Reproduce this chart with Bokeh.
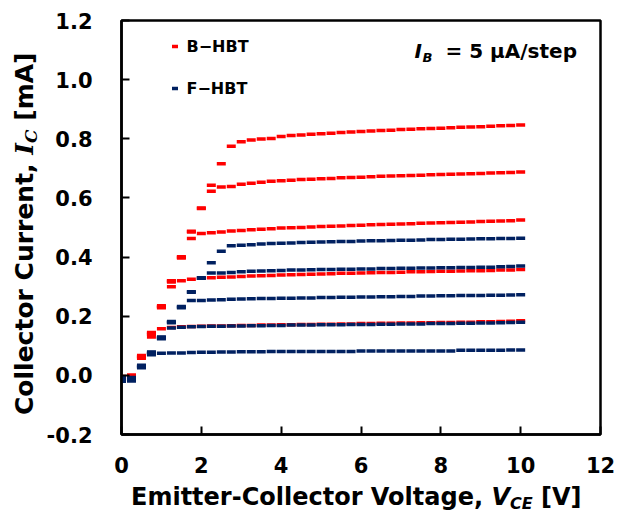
from bokeh.plotting import figure
from bokeh.models import (Range1d, FixedTicker, PrintfTickFormatter, Label, Legend,
                          LegendItem, GridBox, Div)
from bokeh.embed import file_html
from bokeh.resources import INLINE

# ---------------- data ----------------
vce = [0.0, 0.25, 0.5, 0.75, 1.0, 1.25, 1.5, 1.75, 2.0, 2.25, 2.5, 2.75,
       3.0, 3.25, 3.5, 3.75, 4.0, 4.25, 4.5, 4.75, 5.0, 5.25, 5.5, 5.75,
       6.0, 6.25, 6.5, 6.75, 7.0, 7.25, 7.5, 7.75, 8.0, 8.25, 8.5, 8.75,
       9.0, 9.25, 9.5, 9.75, 10.0]

# B-HBT (red)
b_hbt_1 = [-0.004, 0.001, 0.058, 0.130, 0.158, 0.162, 0.164, 0.165, 0.166, 0.167, 0.167, 0.168,
           0.169, 0.169, 0.170, 0.170, 0.171, 0.171, 0.172, 0.172, 0.173, 0.173, 0.174, 0.174,
           0.175, 0.175, 0.176, 0.176, 0.177, 0.177, 0.178, 0.178, 0.179, 0.179, 0.180, 0.180,
           0.181, 0.181, 0.182, 0.183, 0.185]
b_hbt_2 = [-0.006, -0.001, 0.061, 0.138, 0.229, 0.300, 0.320, 0.325, 0.328, 0.330, 0.332, 0.333,
           0.334, 0.336, 0.337, 0.338, 0.339, 0.340, 0.341, 0.342, 0.343, 0.344, 0.345, 0.345,
           0.346, 0.347, 0.348, 0.348, 0.349, 0.350, 0.350, 0.351, 0.352, 0.352, 0.353, 0.354,
           0.354, 0.355, 0.356, 0.356, 0.358]
b_hbt_3 = [-0.008, -0.003, 0.063, 0.141, 0.231, 0.316, 0.397, 0.463, 0.480, 0.482, 0.485, 0.488,
           0.490, 0.492, 0.494, 0.496, 0.498, 0.499, 0.500, 0.502, 0.503, 0.504, 0.505, 0.507,
           0.508, 0.509, 0.510, 0.511, 0.512, 0.513, 0.514, 0.515, 0.516, 0.517, 0.518, 0.519,
           0.520, 0.521, 0.522, 0.523, 0.525]
b_hbt_4 = [-0.010, -0.005, 0.065, 0.143, 0.233, 0.319, 0.399, 0.485, 0.564, 0.623, 0.637, 0.639,
           0.646, 0.650, 0.653, 0.656, 0.658, 0.660, 0.662, 0.663, 0.665, 0.666, 0.668, 0.669,
           0.670, 0.672, 0.673, 0.674, 0.675, 0.676, 0.677, 0.678, 0.679, 0.680, 0.681, 0.682,
           0.683, 0.684, 0.685, 0.686, 0.688]
b_hbt_5 = [-0.012, -0.007, 0.067, 0.145, 0.235, 0.320, 0.401, 0.487, 0.566, 0.643, 0.716, 0.775,
           0.790, 0.796, 0.799, 0.801, 0.808, 0.811, 0.813, 0.815, 0.817, 0.819, 0.821, 0.823,
           0.825, 0.826, 0.828, 0.829, 0.831, 0.832, 0.834, 0.835, 0.836, 0.837, 0.839, 0.840,
           0.841, 0.842, 0.844, 0.845, 0.847]

# F-HBT (navy)
f_hbt_1 = [-0.008, -0.007, 0.026, 0.070, 0.075, 0.076, 0.076, 0.077, 0.078, 0.078, 0.079, 0.079,
           0.080, 0.080, 0.080, 0.081, 0.081, 0.081, 0.081, 0.081, 0.081, 0.081, 0.081, 0.081,
           0.082, 0.082, 0.082, 0.082, 0.082, 0.082, 0.082, 0.082, 0.082, 0.082, 0.085, 0.085,
           0.085, 0.085, 0.085, 0.086, 0.086]
f_hbt_2 = [-0.011, -0.010, 0.028, 0.073, 0.124, 0.160, 0.163, 0.164, 0.165, 0.166, 0.166, 0.167,
           0.167, 0.168, 0.168, 0.169, 0.169, 0.170, 0.170, 0.170, 0.171, 0.171, 0.171, 0.172,
           0.172, 0.172, 0.173, 0.173, 0.174, 0.174, 0.174, 0.175, 0.175, 0.175, 0.176, 0.176,
           0.177, 0.177, 0.178, 0.179, 0.180]
f_hbt_3 = [-0.014, -0.013, 0.030, 0.075, 0.126, 0.178, 0.229, 0.253, 0.253, 0.255, 0.256, 0.257,
           0.258, 0.259, 0.260, 0.260, 0.261, 0.261, 0.262, 0.262, 0.263, 0.263, 0.264, 0.264,
           0.265, 0.265, 0.266, 0.266, 0.267, 0.267, 0.268, 0.268, 0.269, 0.269, 0.270, 0.270,
           0.270, 0.271, 0.271, 0.272, 0.273]
f_hbt_4 = [-0.017, -0.016, 0.032, 0.077, 0.128, 0.180, 0.231, 0.281, 0.328, 0.346, 0.346, 0.348,
           0.350, 0.352, 0.353, 0.354, 0.355, 0.356, 0.356, 0.357, 0.358, 0.358, 0.359, 0.359,
           0.360, 0.360, 0.361, 0.361, 0.362, 0.362, 0.363, 0.363, 0.364, 0.364, 0.365, 0.365,
           0.366, 0.366, 0.367, 0.368, 0.370]
f_hbt_5 = [-0.020, -0.019, 0.034, 0.079, 0.130, 0.182, 0.233, 0.283, 0.330, 0.381, 0.420, 0.438,
           0.440, 0.442, 0.444, 0.446, 0.447, 0.448, 0.449, 0.450, 0.451, 0.452, 0.453, 0.453,
           0.454, 0.455, 0.455, 0.456, 0.457, 0.457, 0.458, 0.459, 0.459, 0.460, 0.460, 0.461,
           0.462, 0.462, 0.463, 0.463, 0.464]

x_ticks = [0, 2, 4, 6, 8, 10, 12]
y_ticks = [-0.2, 0.0, 0.2, 0.4, 0.6, 0.8, 1.0, 1.2]
legend_labels = ["B\u2212HBT", "F\u2212HBT"]

RED = "#FF0000"
NAVY = "#002060"
FONT = "DejaVu Sans"

# ---------------- layout geometry (window pixels) ----------------
WIN_W, WIN_H = 618, 521
YT_W = 41                            # strip for the y-axis title
FL, FT, FW, FH = 121, 20, 479, 414   # plot frame in window pixels
MAIN_H = 481                         # main figure height (frame + tick labels)
XT_H = WIN_H - MAIN_H                # strip for the x-axis title
XMIN, XMAX, YMIN, YMAX = 0, 12, -0.2, 1.2

p = figure(frame_width=FW, frame_height=FH,
           x_range=Range1d(XMIN, XMAX), y_range=Range1d(YMIN, YMAX),
           output_backend="svg", toolbar_location=None,
           min_border_left=FL - YT_W, min_border_right=WIN_W - FL - FW,
           min_border_top=FT, min_border_bottom=MAIN_H - FT - FH,
           background_fill_color="white", border_fill_color="white")
p.xgrid.visible = False
p.ygrid.visible = False
p.outline_line_color = "black"
p.outline_line_width = 2.5

for ax in (p.xaxis[0], p.yaxis[0]):
    ax.axis_line_color = "black"
    ax.axis_line_width = 2.5
    ax.major_tick_in = 8
    ax.major_tick_out = 0
    ax.major_tick_line_width = 2
    ax.major_tick_line_color = "black"
    ax.minor_tick_in = 0
    ax.minor_tick_out = 0
    ax.major_label_text_font = FONT
    ax.major_label_text_font_size = "21px"
    ax.major_label_text_font_style = "bold"
    ax.major_label_text_color = "black"

p.xaxis.ticker = FixedTicker(ticks=x_ticks)
p.yaxis.ticker = FixedTicker(ticks=y_ticks)
p.yaxis.formatter = PrintfTickFormatter(format="%.1f")
p.xaxis.major_label_standoff = 22
p.yaxis.major_label_standoff = 29

red_r = []
for ys in [b_hbt_1, b_hbt_2, b_hbt_3, b_hbt_4, b_hbt_5]:
    assert len(ys) == len(vce)
    red_r.append(p.scatter(vce, ys, marker="dash", size=9, line_color=RED, line_width=3.5))
navy_r = []
for ys in [f_hbt_1, f_hbt_2, f_hbt_3, f_hbt_4, f_hbt_5]:
    assert len(ys) == len(vce)
    navy_r.append(p.scatter(vce, ys, marker="dash", size=9, line_color=NAVY, line_width=3.5))

legend = Legend(items=[LegendItem(label=legend_labels[0], renderers=[red_r[0]]),
                       LegendItem(label=legend_labels[1], renderers=[navy_r[0]])],
                location=(45.5, 336), glyph_width=15, glyph_height=20, label_height=20,
                spacing=22, label_standoff=5, padding=0, margin=0,
                border_line_color=None, background_fill_alpha=0,
                label_text_font=FONT, label_text_font_size="16px",
                label_text_font_style="bold", label_text_color="black")
p.add_layout(legend)


def to_x(px):
    return XMIN + (px - FL) * (XMAX - XMIN) / FW


def to_y(py):
    return YMAX - (py - FT) * (YMAX - YMIN) / FH


# annotation  I_B = 5 uA/step  (inside the frame); y = centre of the capitals
for txt, px, py, sz, st in [("I", 414, 50, 20, "bold italic"),
                            ("B", 422, 57, 13, "bold italic"),
                            ("= 5 \u03bcA/step", 445, 50, 20, "bold")]:
    p.add_layout(Label(x=to_x(px), y=to_y(py), text=txt, text_font=FONT,
                       text_font_size=f"{sz}px", text_font_style=st, text_color="black",
                       text_align="left", text_baseline="middle"))

# ---------------- axis titles as HTML text (italic symbols with subscripts) ----------------
FONT_CSS = "font-family:'DejaVu Sans';font-weight:bold;color:#000;white-space:nowrap;line-height:normal;"
SUB_CSS = "font-style:italic;vertical-align:-0.25em;"

y_title_html = (
    f'<div style="position:relative;width:{YT_W}px;height:{MAIN_H}px;overflow:visible;">'
    f'<div style="position:absolute;left:0;top:0;width:{MAIN_H}px;height:{YT_W}px;'
    f'transform-origin:0 0;transform:translate(0px,{MAIN_H}px) rotate(-90deg);{FONT_CSS}font-size:25px;">'
    f'<span style="position:absolute;left:{MAIN_H - 415}px;top:10px;">Collector Current, '
    f'<span style="font-family:\'DejaVu Serif\';font-style:italic;">I</span>'
    f'<span style="font-family:\'DejaVu Serif\';font-size:17px;{SUB_CSS}">C</span> [mA]</span>'
    f'</div></div>'
)
x_title_html = (
    f'<div style="position:relative;width:{WIN_W}px;height:{XT_H}px;overflow:visible;">'
    f'<span style="position:absolute;left:131px;top:2px;{FONT_CSS}font-size:24px;">'
    f'Emitter-Collector Voltage, <span style="font-style:italic;">V</span>'
    f'<span style="font-size:16px;{SUB_CSS}">CE</span> [V]</span>'
    f'</div>'
)

ydiv = Div(text=y_title_html, width=YT_W, height=MAIN_H, margin=0,
           styles={"overflow": "visible"})
xdiv = Div(text=x_title_html, width=WIN_W, height=XT_H, margin=0,
           styles={"overflow": "visible"})

layout = GridBox(children=[(ydiv, 0, 0), (p, 0, 1), (xdiv, 1, 0, 1, 2)], spacing=0)

open("out.html", "w").write(file_html(layout, INLINE))
